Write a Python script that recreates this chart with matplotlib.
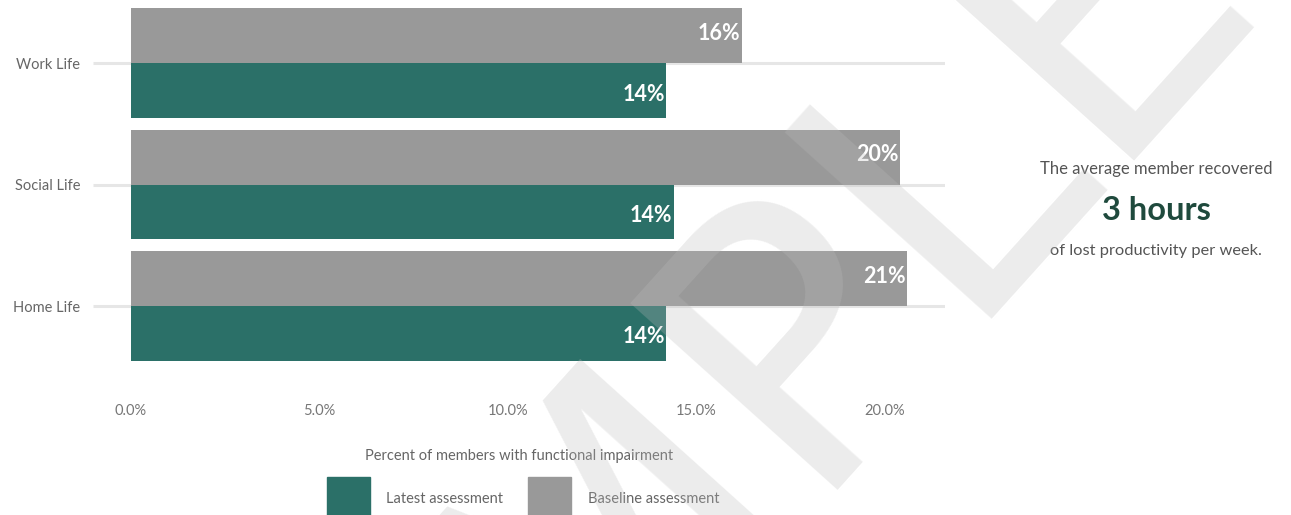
import matplotlib.pyplot as plt
from matplotlib.patches import Rectangle

categories = ["Work Life", "Social Life", "Home Life"]
latest = [14.2, 14.4, 14.2]
baseline = [16.2, 20.4, 20.6]
latest_labels = ["14%", "14%", "14%"]
baseline_labels = ["16%", "20%", "21%"]
xticks = [0, 5, 10, 15, 20]

teal = "#2b7068"
grey = "#999999"

plt.rcParams["font.family"] = ["Lato", "DejaVu Sans"]

W, H = 1291, 515
fig = plt.figure(figsize=(W / 100, H / 100), dpi=100)
ax = fig.add_axes([131 / W, 1 - 390 / H, 814 / W, 382 / H])

ypos = list(range(len(categories)))
bh = 0.45
ax.barh([y - bh / 2 for y in ypos], baseline, height=bh, color=grey, zorder=2)
ax.barh([y + bh / 2 for y in ypos], latest, height=bh, color=teal, zorder=2)

for y, v, t in zip(ypos, baseline, baseline_labels):
    ax.text(v - 0.03, y - bh / 2 - 0.02, t, ha="right", va="center", color="white",
            fontsize=15.5, fontweight="bold", zorder=3)
for y, v, t in zip(ypos, latest, latest_labels):
    ax.text(v - 0.03, y + bh / 2 + 0.03, t, ha="right", va="center", color="white",
            fontsize=15.5, fontweight="bold", zorder=3)

ax.set_xlim(0, 21.6)
ax.set_ylim(2 + 84 / 121.5, -0.453)
ax.set_yticks(ypos)
ax.set_yticklabels(categories)
ax.set_xticks(xticks)
ax.set_xticklabels([f"{v:.1f}%" for v in xticks])
ax.tick_params(axis="y", length=27.5, width=2.2, color="#e6e6e6", pad=9,
               labelsize=10.5, labelcolor="#666666")
ax.tick_params(axis="x", length=0, pad=10, labelsize=10.5, labelcolor="#777777")
ax.grid(axis="y", color="#e6e6e6", linewidth=2.2, zorder=1)
ax.grid(axis="x", visible=False)
for s in ax.spines.values():
    s.set_visible(False)

fig.text(519 / W, 1 - 456 / H, "Percent of members with functional impairment",
         ha="center", va="center", fontsize=10.5, color="#666666")

# legend
fig.add_artist(Rectangle((327 / W, 0), 43 / W, 38 / H, transform=fig.transFigure,
                         color=teal))
fig.text(386 / W, 1 - 499 / H, "Latest assessment", ha="left", va="center",
         fontsize=10.5, color="#666666")
fig.add_artist(Rectangle((528 / W, 0), 43 / W, 38 / H, transform=fig.transFigure,
                         color=grey))
fig.text(588 / W, 1 - 499 / H, "Baseline assessment", ha="left", va="center",
         fontsize=10.5, color="#666666")

# side note
fig.text(1156 / W, 1 - 169 / H, "The average member recovered", ha="center",
         va="center", fontsize=12, color="#555555")
fig.text(1156 / W, 1 - 211 / H, "3 hours", ha="center", va="center",
         fontsize=23.5, fontweight="bold", color="#1f4a3d")
fig.text(1156 / W, 1 - 251 / H, "of lost productivity per week.", ha="center",
         va="center", fontsize=11.8, color="#555555")

# watermark
fig.text(675 / W, 1 - 485 / H, "SAMPLE", ha="center", va="center", rotation=48,
         fontsize=275, color=(188 / 255, 188 / 255, 188 / 255), alpha=0.28,
         family="DejaVu Sans", zorder=10)

fig.savefig("out.png", dpi=100)
